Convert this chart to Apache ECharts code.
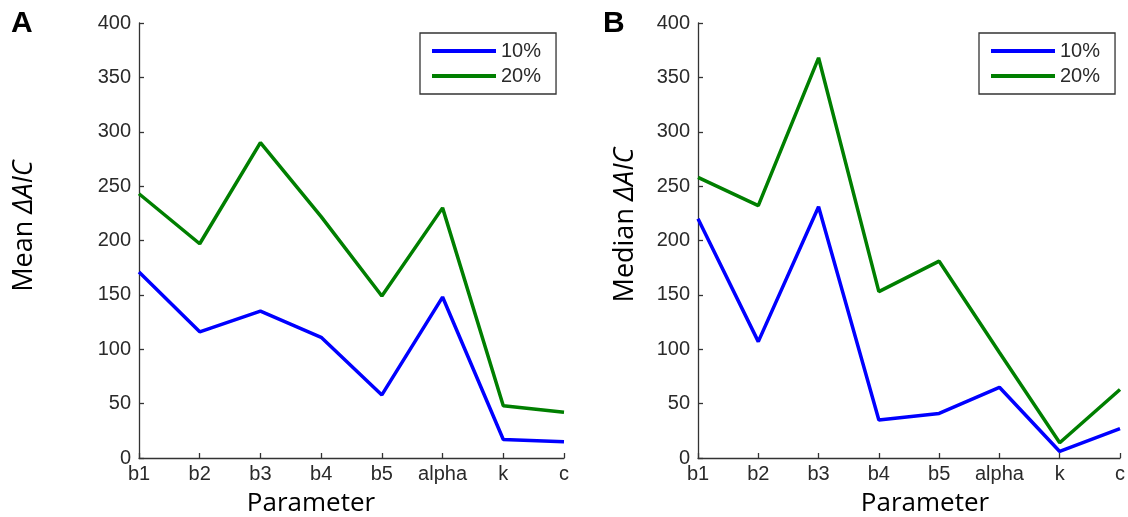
<!DOCTYPE html>
<html>
<head>
<meta charset="utf-8">
<script src="https://cdn.jsdelivr.net/npm/echarts@6/dist/echarts.min.js"></script>
<style>html,body{margin:0;padding:0;background:#fff}#c{width:1128px;height:517px}</style>
</head>
<body>
<div id="c"></div>
<script>
const categories = ['b1','b2','b3','b4','b5','alpha','k','c'];
const yTicks = [0,50,100,150,200,250,300,350,400];
const seriesNames = ['10%','20%'];
const meanA10 = [171, 116, 135, 111, 58, 148, 17, 15];
const meanA20 = [243, 197, 290, 222, 149, 230, 48, 42];
const medianB10 = [220, 107, 231, 35, 41, 65, 6, 27];
const medianB20 = [258, 232, 368, 153, 181, 97, 14, 63];

const chart = echarts.init(document.getElementById('c'), null, {renderer:'canvas'});
const axisCol = '#333';
const tickFont = {fontFamily:'Liberation Sans', fontSize:20, color:'#2a2a2a'};
function xAx(i){return {type:'category',gridIndex:i,data:categories,boundaryGap:false,
  axisLine:{lineStyle:{color:axisCol,width:1.3}},axisTick:{inside:true,length:5,lineStyle:{color:axisCol,width:1.3}},
  axisLabel:Object.assign({margin:6,interval:0},tickFont),splitLine:{show:false}};}
function yAx(i){return {type:'value',gridIndex:i,min:yTicks[0],max:yTicks[yTicks.length-1],interval:yTicks[1]-yTicks[0],
  axisLine:{show:true,lineStyle:{color:axisCol,width:1.3}},axisTick:{show:true,inside:true,length:5,lineStyle:{color:axisCol,width:1.3}},
  axisLabel:Object.assign({margin:8},tickFont),splitLine:{show:false}};}
function ser(name,data,i,color){return {type:'line',name:name,xAxisIndex:i,yAxisIndex:i,data:data,symbol:'none',
  lineStyle:{color:color,width:3.5},itemStyle:{color:color},animation:false};}
function leg(left){return {orient:'vertical',left:left,top:33,data:seriesNames,icon:'rect',itemWidth:64,itemHeight:4,
  itemGap:5,padding:[8,15,8,12],borderColor:'#333',borderWidth:1.3,backgroundColor:'#fff',
  textStyle:{fontFamily:'Liberation Sans',fontSize:20,color:'#2a2a2a'},selectedMode:false};}
const labFont = 'Open Sans';
function ylab(x,y,pre){return {type:'text',x:x,y:y,rotation:Math.PI/2,style:{text:'{a|'+pre+' }{b|ΔAIC}',
  align:'center',verticalAlign:'middle',rich:{a:{fontFamily:labFont,fontSize:27,fill:'#000'},b:{fontFamily:labFont,fontSize:27,fontStyle:'italic',fill:'#000'}}}};}
chart.setOption({
  animation:false,
  grid:[{left:139,right:564,top:23,bottom:59},{left:698,right:5,top:23,bottom:59}],
  xAxis:[xAx(0),xAx(1)],
  yAxis:[yAx(0),yAx(1)],
  legend:[leg(420),leg(979)],
  series:[ser(seriesNames[0],meanA10,0,'#0000ff'),ser(seriesNames[1],meanA20,0,'#007f00'),
          ser(seriesNames[0],medianB10,1,'#0000ff'),ser(seriesNames[1],medianB20,1,'#007f00')],
  graphic:[
    {type:'text',left:11,top:9,style:{text:'A',font:'bold 30px Liberation Sans',fill:'#000'}},
    {type:'text',left:603,top:9,style:{text:'B',font:'bold 30px Liberation Sans',fill:'#000'}},
    ylab(24,226,'Mean'),
    ylab(625,225,'Median'),
    {type:'text',x:311,y:504,style:{text:'Parameter',font:'26px Open Sans',fill:'#000',align:'center',verticalAlign:'middle'}},
    {type:'text',x:925,y:504,style:{text:'Parameter',font:'26px Open Sans',fill:'#000',align:'center',verticalAlign:'middle'}}
  ]
});
</script>
</body>
</html>
